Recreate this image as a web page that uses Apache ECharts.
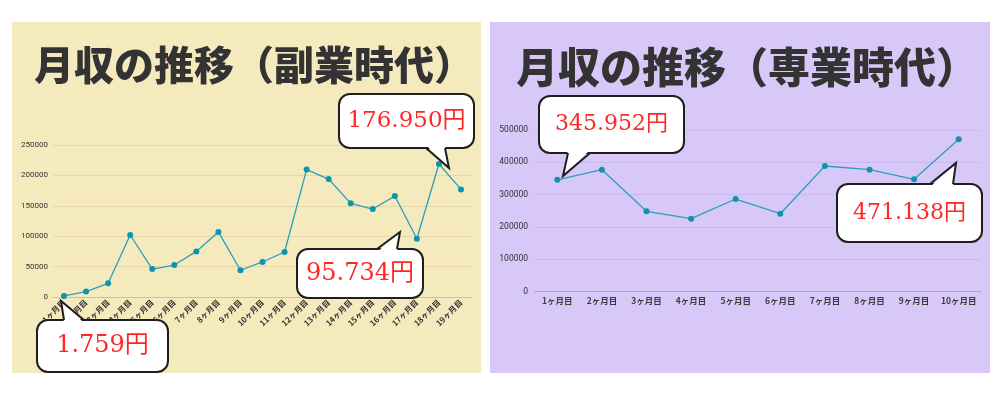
<!DOCTYPE html>
<html>
<head>
<meta charset="utf-8">
<script src="https://cdn.jsdelivr.net/npm/echarts@6/dist/echarts.min.js"></script>
<style>
  html, body { margin: 0; padding: 0; background: #ffffff; }
  #chart { width: 1000px; height: 400px; }
</style>
</head>
<body>
<div id="chart"></div>
<script>
// ---- data ----
const sideTitle = '月収の推移（副業時代）';
const fullTitle = '月収の推移（専業時代）';
const sideMonths = ['1ヶ月目','2ヶ月目','3ヶ月目','4ヶ月目','5ヶ月目','6ヶ月目','7ヶ月目','8ヶ月目','9ヶ月目','10ヶ月目',
  '11ヶ月目','12ヶ月目','13ヶ月目','14ヶ月目','15ヶ月目','16ヶ月目','17ヶ月目','18ヶ月目','19ヶ月目'];
const sideIncome = [1759, 8900, 22500, 102000, 46000, 52600, 75000, 107000, 44000, 57600,
  74000, 209500, 194000, 154000, 144700, 166000, 95734, 218700, 176950];
const fullMonths = ['1ヶ月目','2ヶ月目','3ヶ月目','4ヶ月目','5ヶ月目','6ヶ月目','7ヶ月目','8ヶ月目','9ヶ月目','10ヶ月目'];
const fullIncome = [345952, 377200, 248600, 225700, 286600, 241200, 388700, 377300, 347500, 471138];
const sideTicks = { max: 250000, interval: 50000 };
const fullTicks = { max: 500000, interval: 100000 };
const calloutTexts = ['1.759円', '95.734円', '176.950円', '345.952円', '471.138円'];

// ---- styling / layout ----
const lineColor = '#2a9fba';
const dotColor = '#0f94ae';
const redText = '#ff2626';
const serif = '"DejaVu Serif", "Liberation Serif", "Noto Sans CJK JP", serif';

function callout(text, box, tail, fontSize) {
  const [x, y, w, h] = box;
  const [b1, b2, tip] = tail;
  const inward = (b1[1] <= y + 1) ? 3 : -3;
  return {
    type: 'group', z: 100,
    children: [
      { type: 'rect', shape: { x, y, width: w, height: h, r: 11 },
        style: { fill: '#ffffff', stroke: '#1e1e1e', lineWidth: 2 }, z: 100 },
      { type: 'polygon', shape: { points: [[b1[0], b1[1] + inward], tip, [b2[0], b2[1] + inward]] },
        style: { fill: '#ffffff', stroke: null }, z: 101 },
      { type: 'polyline', shape: { points: [b1, tip, b2] },
        style: { fill: null, stroke: '#1e1e1e', lineWidth: 2 }, z: 102 },
      { type: 'text', x: x + w / 2, y: y + h / 2, z: 103,
        style: { text, fill: redText, font: fontSize + 'px ' + serif,
          align: 'center', verticalAlign: 'middle' } }
    ]
  };
}

const chart = echarts.init(document.getElementById('chart'));
const titleStyle = (size) => ({ color: '#333333', fontSize: size, fontWeight: 900, fontFamily: '"Noto Sans CJK JP", sans-serif' });
const plain = (v) => String(v);

const option = {
  backgroundColor: '#ffffff',
  animation: false,
  title: [
    { text: sideTitle, left: 249, top: 40, textAlign: 'center', textStyle: titleStyle(40) },
    { text: fullTitle, left: 742, top: 41, textAlign: 'center', textStyle: titleStyle(42) }
  ],
  grid: [
    { left: 53, top: 145, width: 419, height: 152, outerBoundsMode: 'none' },
    { left: 535, top: 130, width: 446, height: 161.7, outerBoundsMode: 'none' }
  ],
  xAxis: [
    { type: 'category', gridIndex: 0, data: sideMonths, boundaryGap: true,
      axisLine: { lineStyle: { color: '#cdc29c', width: 1 } },
      axisTick: { show: false },
      axisLabel: { rotate: 45, fontSize: 8, fontWeight: 'bold', color: '#333333', margin: 4, interval: 0,
        fontFamily: '"Noto Sans CJK JP", sans-serif' } },
    { type: 'category', gridIndex: 1, data: fullMonths, boundaryGap: true,
      axisLine: { lineStyle: { color: '#b29fd9', width: 1 } },
      axisTick: { show: false },
      axisLabel: { fontSize: 8.5, fontWeight: 'bold', color: '#3d3d3d', margin: 5, interval: 0,
        fontFamily: '"Noto Sans CJK JP", sans-serif' } }
  ],
  yAxis: [
    { type: 'value', gridIndex: 0, min: 0, max: sideTicks.max, interval: sideTicks.interval,
      axisLine: { show: false }, axisTick: { show: false },
      splitLine: { lineStyle: { color: '#e6d8ab', width: 1 } },
      axisLabel: { fontSize: 8, color: '#333333', margin: 5, formatter: plain, fontFamily: 'Roboto, sans-serif' } },
    { type: 'value', gridIndex: 1, min: 0, max: fullTicks.max, interval: fullTicks.interval,
      axisLine: { show: false }, axisTick: { show: false },
      splitLine: { lineStyle: { color: '#c9b8ee', width: 1 } },
      axisLabel: { fontSize: 8.5, color: '#333333', margin: 7, formatter: plain, fontFamily: 'Roboto, sans-serif' } }
  ],
  series: [
    { type: 'line', xAxisIndex: 0, yAxisIndex: 0, data: sideIncome,
      symbol: 'circle', symbolSize: 6, showAllSymbol: true,
      lineStyle: { color: lineColor, width: 1.3 }, itemStyle: { color: dotColor } },
    { type: 'line', xAxisIndex: 1, yAxisIndex: 1, data: fullIncome,
      symbol: 'circle', symbolSize: 6, showAllSymbol: true,
      lineStyle: { color: lineColor, width: 1.3 }, itemStyle: { color: dotColor } }
  ],
  graphic: [
    { type: 'rect', z: -10, shape: { x: 12, y: 22, width: 469, height: 351 }, style: { fill: '#f5e9be' } },
    { type: 'rect', z: -10, shape: { x: 490, y: 22, width: 500, height: 351 }, style: { fill: '#d8c8f8' } },
    callout(calloutTexts[0], [37, 320, 131, 52], [[64, 320], [84, 320], [61, 301]], 24),
    callout(calloutTexts[1], [297, 249, 126, 49], [[377, 249], [397, 249], [400, 232]], 24),
    callout(calloutTexts[2], [339, 94, 135, 54], [[426, 148], [445, 148], [449, 168]], 23),
    callout(calloutTexts[3], [539, 96, 145, 57], [[568, 153], [590, 153], [563, 176]], 22),
    callout(calloutTexts[4], [837, 184, 145, 58], [[930, 184], [953, 184], [956, 163]], 22)
  ]
};
chart.setOption(option);
</script>
</body>
</html>
